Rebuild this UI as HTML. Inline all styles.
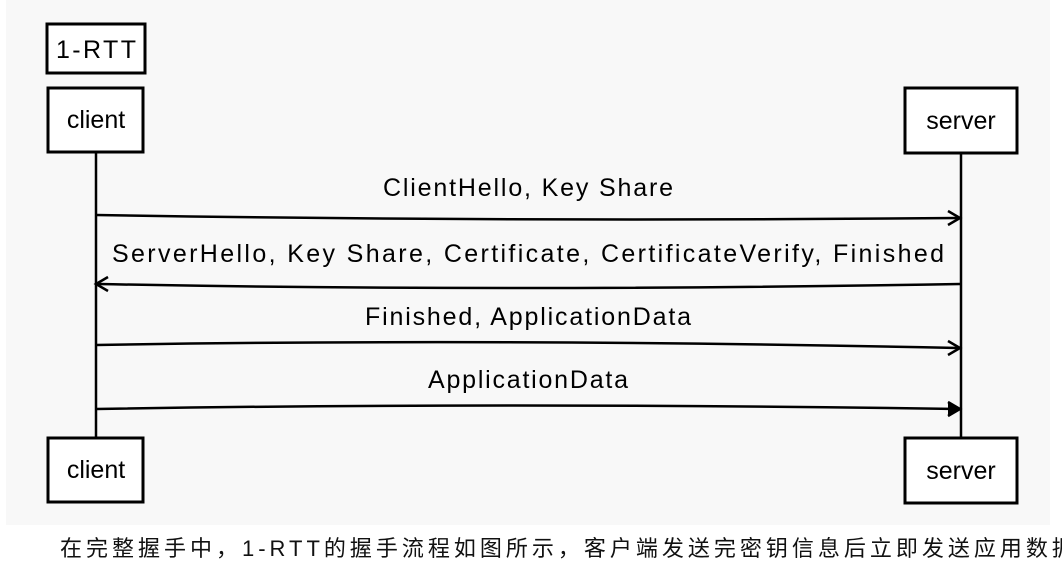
<!DOCTYPE html>
<html><head><meta charset="utf-8"><style>
body{margin:0;width:1062px;height:540px;overflow:hidden;background:#fff;position:relative}
.bg{position:absolute;left:6px;top:0;width:1044px;height:525px;background:#f8f8f8}
svg{position:absolute;left:0;top:0}
.t{position:absolute;left:60px;top:531px;font:22px "Liberation Sans","Noto Sans CJK SC",sans-serif;letter-spacing:4px;color:#111;white-space:nowrap}
</style></head><body>
<div class="bg"></div>
<svg width="1062" height="540" font-family="'Liberation Sans',sans-serif">
<g fill="#fff" stroke="#000" stroke-width="3">
<rect x="47" y="24" width="98" height="49"/>
<rect x="48" y="88" width="95" height="64"/>
<rect x="905" y="88" width="112" height="65"/>
<rect x="48" y="438" width="95" height="64"/>
<rect x="905" y="438" width="112" height="65"/>
</g>
<g stroke="#000" stroke-width="2.5" fill="none">
<line x1="96" y1="152" x2="96" y2="438"/>
<line x1="961" y1="153" x2="961" y2="438"/>
<path d="M96 215 Q500 222 958 218"/><path d="M948 211 L960 218 L948 225"/>
<path d="M960 284 Q500 292 98 284"/><path d="M108 277 L96 284 L108 291"/>
<path d="M96 345 Q500 338 958 348"/><path d="M948 341 L960 348 L948 355"/>
<path d="M96 409 Q500 402 958 409"/><path d="M948 402 L960 409 L948 416" fill="#000"/>
</g>
<g font-size="25" fill="#000" text-anchor="middle">
<text x="96" y="58" textLength="80">1-RTT</text>
<text x="96" y="128">client</text>
<text x="961" y="129">server</text>
<text x="96" y="478">client</text>
<text x="961" y="479">server</text>
<text x="528" y="196" textLength="290">ClientHello, Key Share</text>
<text x="528" y="262" textLength="832">ServerHello, Key Share, Certificate, CertificateVerify, Finished</text>
<text x="528" y="325" textLength="326">Finished, ApplicationData</text>
<text x="528" y="388" textLength="200">ApplicationData</text>
</g>
</svg>
<div class="t">在完整握手中，1-RTT的握手流程如图所示，客户端发送完密钥信息后立即发送应用数据</div>
</body></html>
